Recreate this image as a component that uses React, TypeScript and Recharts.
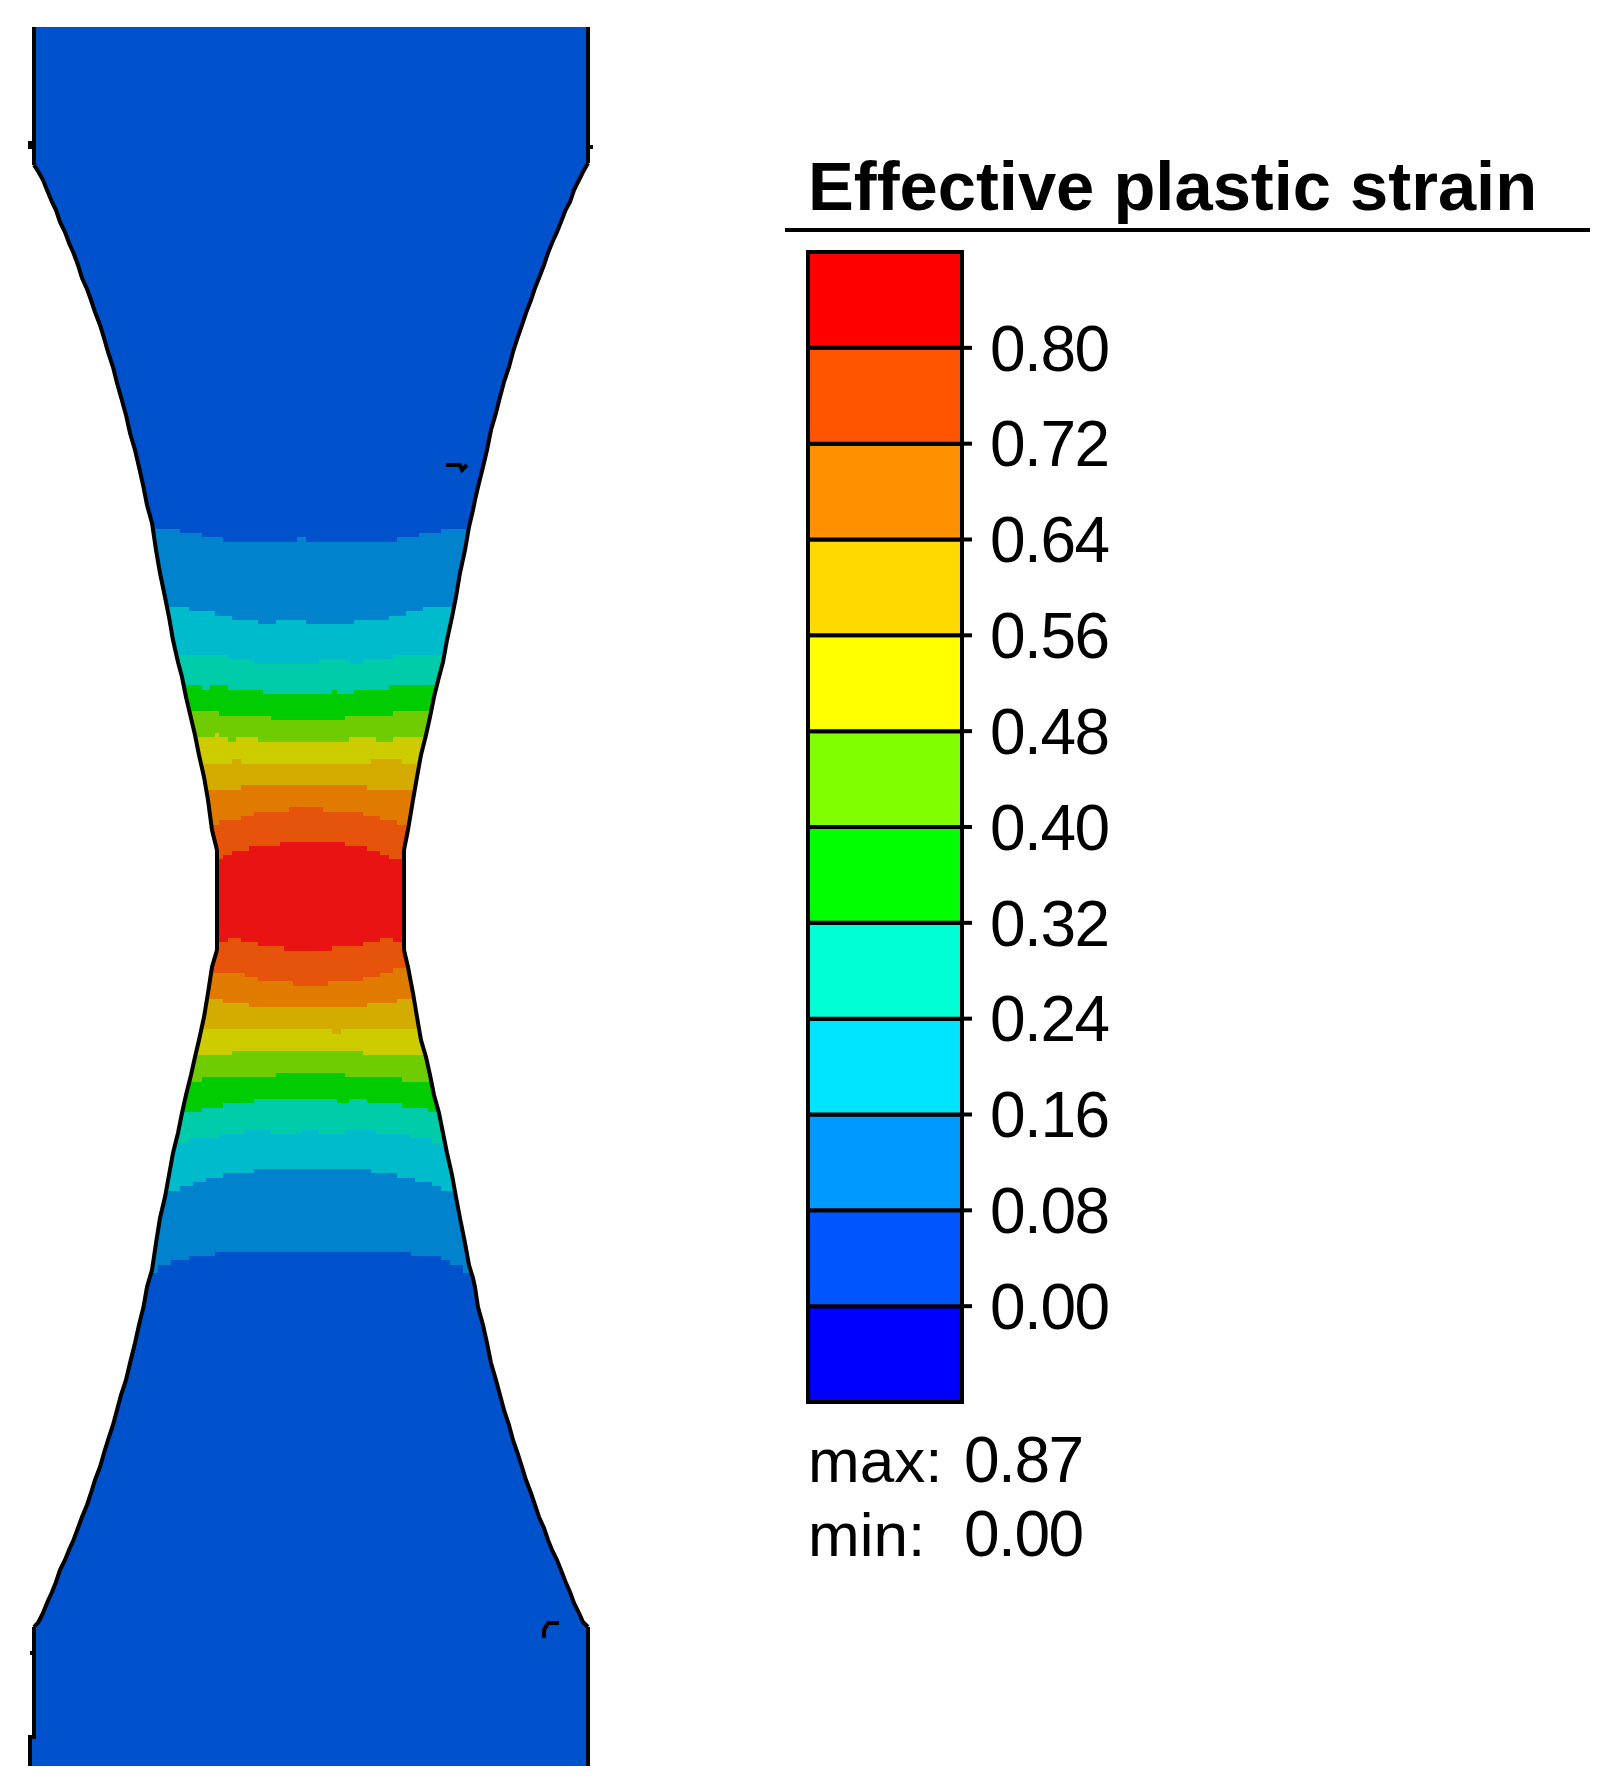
import React from "react";
import { Area, Bar, BarChart, ComposedChart, Line, XAxis, YAxis } from "recharts";

type Row = number[];

// specimen in image pixels
const MID_Y = 900;
const bodyEdge: Row[] = [[30, 1737, 1766], [34, 27, 1766], [588, 27, 1766]];

// [x, upper edge y, lower edge y]
const leftNotch: Row[] = [
  [34, 165, 1627], [38.5, 172, 1622], [43, 180, 1613], [47, 190, 1603], [52, 202, 1592], [56, 210, 1582],
  [60, 222, 1570], [65, 232, 1560], [69, 243, 1550], [73.5, 253, 1540], [78, 265, 1528], [82, 278, 1517],
  [87, 289, 1505], [91, 300, 1493], [95, 312, 1480], [100, 325, 1467], [104, 338, 1453], [108, 352, 1440],
  [113, 367, 1425], [117, 383, 1410], [121, 397, 1395], [126, 415, 1380], [130, 433, 1363], [135, 450, 1343],
  [139, 467, 1325], [143.5, 487, 1307], [147, 505, 1287], [152, 523, 1270], [156, 550, 1243], [160, 573, 1218],
  [165, 597, 1197], [169, 617, 1175], [173, 640, 1153], [178, 662, 1133], [182, 677, 1113], [186, 697, 1095],
  [191, 718, 1075], [195, 735, 1057], [199, 755, 1040], [204, 777, 1017], [208, 800, 993], [212, 830, 967],
  [217, 850, 950],
];
const rightNotch: Row[] = [
  [404, 850, 950], [408, 830, 967], [413, 800, 993], [417, 777, 1017], [421, 755, 1040], [426, 735, 1057],
  [430, 717, 1075], [434, 697, 1095], [439, 677, 1113], [443, 662, 1133], [447, 640, 1153], [452, 617, 1175],
  [456, 597, 1197], [460, 573, 1218], [465, 550, 1243], [469, 527, 1265], [473, 510, 1278], [475, 500, 1287],
  [478, 487, 1307], [483, 467, 1325], [487, 450, 1343], [491, 430, 1363], [496, 413, 1380], [500, 397, 1395],
  [504, 382, 1410], [509, 367, 1425], [513, 352, 1440], [517.5, 338, 1453], [522, 325, 1467], [526, 313, 1480],
  [531, 300, 1493], [535, 288, 1505], [539, 278, 1517], [544, 265, 1528], [548, 253, 1540], [552, 243, 1550],
  [557, 232, 1560], [561, 222, 1570], [565.6, 210, 1582], [570, 202, 1592], [574, 190, 1603], [579, 180, 1613],
  [583, 172, 1622], [588, 163, 1627],
];

// black edge pieces the notches do not cover, and the two stray marks
const edgeLines: Row[][] = [
  [[34, 27], [34, 165]],
  [[34, 1627], [34, 1737], [30, 1737], [30, 1766]],
  [[588, 27], [588, 163]],
  [[588, 1627], [588, 1766]],
  [[217, 850], [217, 950]],
  [[404, 850], [404, 950]],
  [[30, 141], [30, 149]],
  [[588, 147], [593, 147]],
  [[34, 1653], [30, 1653]],
  [[446, 465], [460, 465], [462, 470], [467, 465]],
  [[544, 1638], [544, 1630], [548, 1623], [559, 1623]],
];

const bodyColor = "#0052CC";
const bandColors = [
  "#0082CC", "#00BBCC", "#00CCAA", "#00CC00", "#6ECC00",
  "#CCCC00", "#D4AC00", "#E07B00", "#E6530A", "#EA1313",
];

// contour steps above the neck, outermost first: [x, y]
const upperContours: Row[][] = [
  [[140, 529], [180, 533], [202, 537], [223, 542], [297, 537], [306, 542], [397, 537], [419, 533], [441, 529], [480, 529]],
  [[150, 607], [189, 611], [215, 616], [232, 620], [258, 624], [276, 620], [306, 624], [354, 620], [389, 616], [406, 611], [423, 607], [470, 607]],
  [[165, 655], [228, 659], [254, 664], [319, 659], [350, 664], [363, 659], [393, 655], [450, 655]],
  [[170, 685], [202, 690], [210, 685], [228, 690], [263, 694], [332, 690], [337, 694], [354, 690], [389, 685], [445, 685]],
  [[180, 711], [219, 716], [271, 720], [345, 716], [393, 711], [440, 711]],
  [[185, 737], [215, 733], [219, 737], [228, 742], [236, 737], [258, 742], [349, 737], [376, 742], [393, 737], [430, 737]],
  [[195, 764], [232, 759], [241, 764], [371, 759], [402, 764], [425, 764]],
  [[200, 790], [241, 785], [367, 790], [420, 790]],
  [[205, 825], [219, 820], [241, 816], [254, 812], [289, 807], [323, 812], [363, 816], [380, 820], [397, 825], [415, 825]],
  [[210, 859], [223, 855], [232, 851], [249, 846], [280, 842], [345, 846], [367, 851], [380, 855], [389, 859], [410, 859]],
];

// contour steps below the neck, same order
const lowerContours: Row[][] = [
  [[140, 1273], [158, 1265], [171, 1260], [189, 1256], [215, 1252], [411, 1256], [441, 1260], [450, 1265], [463, 1273], [480, 1273]],
  [[150, 1191], [180, 1186], [193, 1182], [206, 1178], [223, 1173], [254, 1169], [371, 1173], [397, 1178], [415, 1182], [432, 1186], [441, 1191], [470, 1191]],
  [[165, 1143], [189, 1138], [219, 1134], [245, 1130], [271, 1134], [302, 1130], [319, 1134], [345, 1130], [376, 1134], [410, 1138], [432, 1143], [450, 1143]],
  [[170, 1112], [202, 1108], [223, 1103], [254, 1099], [337, 1103], [349, 1099], [367, 1103], [402, 1108], [428, 1112], [445, 1112]],
  [[180, 1082], [202, 1077], [276, 1073], [345, 1077], [402, 1082], [440, 1082]],
  [[185, 1055], [232, 1051], [363, 1055], [430, 1055]],
  [[195, 1029], [332, 1034], [341, 1029], [425, 1029]],
  [[200, 999], [223, 1003], [249, 1007], [367, 1003], [397, 999], [420, 999]],
  [[205, 973], [245, 977], [258, 981], [293, 986], [328, 981], [363, 977], [380, 973], [393, 968], [415, 968]],
  [[210, 942], [228, 938], [241, 942], [258, 946], [284, 951], [332, 946], [363, 942], [380, 938], [393, 942], [410, 942]],
];

// colour scale
const scaleTicks = [0, 0.08, 0.16, 0.24, 0.32, 0.4, 0.48, 0.56, 0.64, 0.72, 0.8];
const scaleSteps = [-0.08, 0.08, 0.08, 0.08, 0.08, 0.08, 0.08, 0.08, 0.08, 0.08, 0.08, 0.08];
const scaleColors = [
  "#0000FF", "#0055FF", "#0099FF", "#00E5FF", "#00FFD5", "#00FF00",
  "#80FF00", "#FFFF00", "#FFD900", "#FF9000", "#FF5500", "#FF0000",
];
const scaleRow = scaleSteps.reduce<Record<string, number | string>>(
  (row, v, i) => ({ ...row, [`c${i}`]: v }),
  { name: "strain" }
);

const toPoints = (rows: Row[]) => rows.map(([x, y]) => ({ x, y }));
const toSpans = (rows: Row[]) => rows.map(([x, top, bottom]) => ({ x, top, bottom }));
const FONT = '"Liberation Sans", Arial, sans-serif';

function Specimen() {
  return (
    <ComposedChart width={640} height={1790} margin={{ top: 0, right: 0, bottom: 0, left: 0 }}>
      <XAxis type="number" dataKey="x" domain={[0, 640]} hide />
      <YAxis type="number" domain={[0, 1790]} reversed hide />
      <Area
        data={toSpans(bodyEdge)}
        dataKey={(d: any) => [d.top, d.bottom]}
        type="stepAfter"
        fill={bodyColor}
        fillOpacity={1}
        stroke="none"
        dot={false}
        activeDot={false}
        isAnimationActive={false}
      />
      {upperContours.map((rows, i) => (
        <Area
          key={`up-${i}`}
          data={toPoints(rows)}
          dataKey={(d: any) => [d.y, MID_Y]}
          type="stepAfter"
          fill={bandColors[i]}
          fillOpacity={1}
          stroke="none"
          dot={false}
          activeDot={false}
          isAnimationActive={false}
        />
      ))}
      {lowerContours.map((rows, i) => (
        <Area
          key={`low-${i}`}
          data={toPoints(rows)}
          dataKey={(d: any) => [MID_Y, d.y]}
          type="stepAfter"
          fill={bandColors[i]}
          fillOpacity={1}
          stroke="none"
          dot={false}
          activeDot={false}
          isAnimationActive={false}
        />
      ))}
      {[leftNotch, rightNotch].map((rows, i) => (
        <Area
          key={`notch-${i}`}
          data={toSpans(rows)}
          dataKey={(d: any) => [d.top, d.bottom]}
          type="linear"
          fill="#FFFFFF"
          fillOpacity={1}
          stroke="#000000"
          strokeWidth={4}
          dot={false}
          activeDot={false}
          isAnimationActive={false}
        />
      ))}
      {edgeLines.map((rows, i) => (
        <Line
          key={`edge-${i}`}
          data={toPoints(rows)}
          dataKey="y"
          type="linear"
          stroke="#000000"
          strokeWidth={4}
          dot={false}
          activeDot={false}
          isAnimationActive={false}
        />
      ))}
    </ComposedChart>
  );
}

function ColorScale() {
  return (
    <BarChart
      width={830}
      height={1790}
      data={[scaleRow]}
      stackOffset="sign"
      barCategoryGap={0}
      margin={{ top: 252, right: 488, bottom: 388, left: 28 }}
    >
      <XAxis dataKey="name" hide />
      <YAxis
        orientation="right"
        width={160}
        domain={[-0.08, 0.88]}
        ticks={scaleTicks}
        interval={0}
        tickFormatter={(v: number) => v.toFixed(2)}
        axisLine={false}
        tickLine={{ stroke: "#000000", strokeWidth: 4 }}
        tickSize={10}
        tickMargin={18}
        tick={{ fill: "#000000", fontSize: 64, fontFamily: FONT, letterSpacing: -1.5 }}
      />
      {scaleColors.map((color, i) => (
        <Bar
          key={color}
          dataKey={`c${i}`}
          stackId="scale"
          fill={color}
          stroke="#000000"
          strokeWidth={4}
          isAnimationActive={false}
        />
      ))}
    </BarChart>
  );
}

export default function App() {
  return (
    <div style={{ position: "absolute", left: 0, top: 0, width: 1610, height: 1790, background: "#FFFFFF", overflow: "hidden" }}>
      <div style={{ position: "absolute", left: 0, top: 0 }}>
        <Specimen />
      </div>
      <div style={{ position: "absolute", left: 780, top: 0 }}>
        <ColorScale />
      </div>
      <svg width={1610} height={1790} style={{ position: "absolute", left: 0, top: 0, pointerEvents: "none" }}>
        <text x={808} y={210} fontFamily={FONT} fontSize={68.7} fontWeight={700} fill="#000000">
          Effective plastic strain
        </text>
        <line x1={785} x2={1590} y1={230} y2={230} stroke="#000000" strokeWidth={4} />
        <text x={808} y={1482} fontFamily={FONT} fontSize={62} fill="#000000">max:</text>
        <text x={964} y={1482} fontFamily={FONT} fontSize={64} letterSpacing={-1.5} fill="#000000">0.87</text>
        <text x={808} y={1556} fontFamily={FONT} fontSize={62} fill="#000000">min:</text>
        <text x={964} y={1556} fontFamily={FONT} fontSize={64} letterSpacing={-1.5} fill="#000000">0.00</text>
      </svg>
    </div>
  );
}
